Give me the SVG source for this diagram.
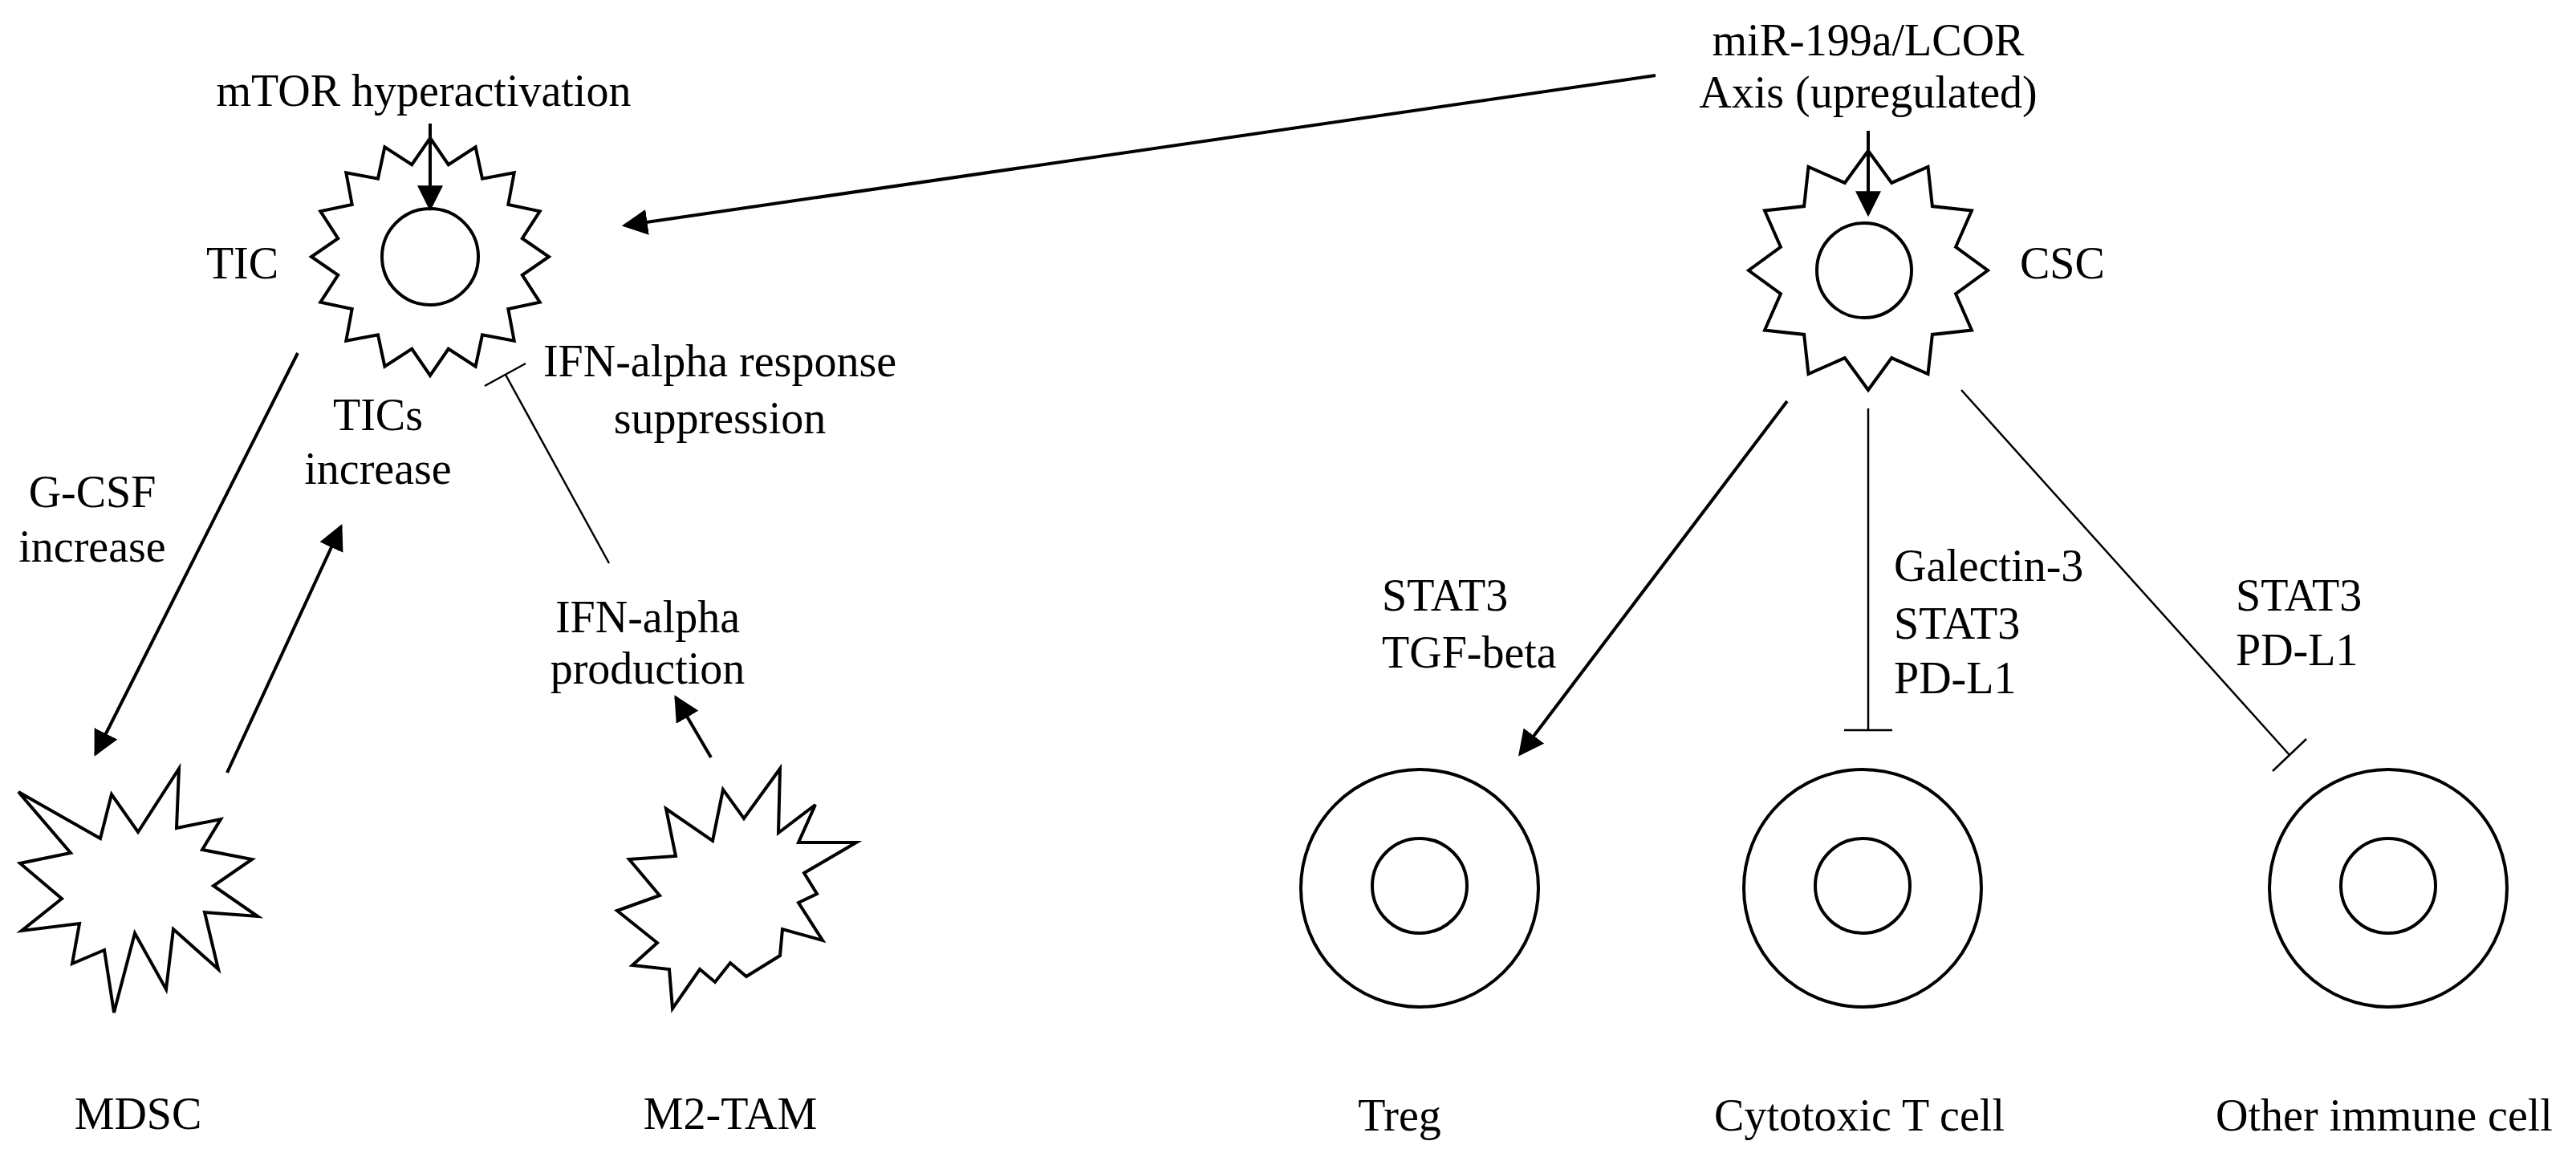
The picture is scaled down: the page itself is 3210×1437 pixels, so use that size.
<svg xmlns="http://www.w3.org/2000/svg" width="3210" height="1437" viewBox="0 0 3210 1437">
<defs>
<style>
.t{font-family:"Liberation Serif","Times New Roman",serif;font-size:56px;fill:#000}
.m{text-anchor:middle}
.s{fill:#fff;stroke:#000;stroke-width:4;stroke-linejoin:miter}
.c{stroke:#000;fill:none}
.a{stroke-width:4}
.i{stroke-width:2.5}
</style>
<marker id="ah" viewBox="0 0 10 10" refX="9" refY="5" markerWidth="32" markerHeight="32" markerUnits="userSpaceOnUse" orient="auto">
<path d="M0,0 L10,5 L0,10 z" fill="#000"/>
</marker>
</defs>
<rect width="3210" height="1437" fill="#fff"/>

<g id="tic">
<polygon class="s" points="536,172 558.8,205.2 592.6,183.3 601,222.7 640.7,215.3 633.3,255 672.7,263.4 650.8,297.2 684,320 650.8,342.8 672.7,376.6 633.3,385 640.7,424.7 601,417.3 592.6,456.7 558.8,434.8 536,468 513.2,434.8 479.4,456.7 471,417.3 431.3,424.7 438.7,385 399.3,376.6 421.2,342.8 388,320 421.2,297.2 399.3,263.4 438.7,255 431.3,215.3 471,222.7 479.4,183.3 513.2,205.2"/>
<circle class="s" cx="536" cy="320" r="60"/>
<text class="t m" x="302" y="347">TIC</text>
</g>
<g id="mtor"><text class="t m" x="528" y="132">mTOR hyperactivation</text></g>
<g id="mir"><text class="t m" x="2328" y="69">miR-199a/LCOR</text><text class="t m" x="2328" y="134">Axis (upregulated)</text></g>
<g id="csc">
<polygon class="s" points="2328,188 2357.2,227.9 2402.5,208 2407.9,257.1 2457,262.5 2437.1,307.8 2477,337 2437.1,366.2 2457,411.5 2407.9,416.9 2402.5,466 2357.2,446.1 2328,486 2298.8,446.1 2253.5,466 2248.1,416.9 2199,411.5 2218.9,366.2 2179,337 2218.9,307.8 2199,262.5 2248.1,257.1 2253.5,208 2298.8,227.9"/>
<circle class="s" cx="2323" cy="337" r="59"/>
<text class="t" x="2517" y="347">CSC</text>
</g>
<g id="mdsc">
<polygon class="s" points="23,987 125,1045 139,990 172,1037 223,958 220,1032 275,1021 252,1059 314,1071 266,1104 321,1142 255,1137 272,1208 216,1158 207,1233 168,1163 142,1262 130,1184 90,1201 99,1151 27,1160 77,1120 25,1076 88,1063"/>
<text class="t m" x="172" y="1407">MDSC</text>
</g>
<g id="m2tam">
<polygon class="s" points="830,1008 888,1048 901,984 927,1020 972,958 970,1038 1016,1003 995,1050 1067,1050 1002,1088 1018,1114 995,1125 1025,1172 975,1158 972,1191 930,1217 910,1200 891,1224 872,1208 838,1257 834,1208 788,1203 819,1175 769,1135 822,1116 784,1071 842,1067"/>
<text class="t m" x="910" y="1407">M2-TAM</text>
</g>
<g id="treg"><circle class="s" cx="1769" cy="1107" r="148"/><circle class="s" cx="1769" cy="1104" r="59"/><text class="t m" x="1744" y="1409">Treg</text></g>
<g id="ctl"><circle class="s" cx="2321" cy="1107" r="148"/><circle class="s" cx="2321" cy="1104" r="59"/><text class="t m" x="2317" y="1409">Cytotoxic T cell</text></g>
<g id="other"><circle class="s" cx="2976" cy="1107" r="148"/><circle class="s" cx="2976" cy="1104" r="59"/><text class="t m" x="2971" y="1409">Other immune cell</text></g>

<g id="labels">
<text class="t m" x="897" y="469">IFN-alpha response</text>
<text class="t m" x="897" y="540">suppression</text>
<text class="t m" x="471" y="536">TICs</text>
<text class="t m" x="471" y="603">increase</text>
<text class="t m" x="115" y="632">G-CSF</text>
<text class="t m" x="115" y="700">increase</text>
<text class="t m" x="807" y="788">IFN-alpha</text>
<text class="t m" x="807" y="852">production</text>
<text class="t" x="1722" y="761">STAT3</text>
<text class="t" x="1722" y="832">TGF-beta</text>
<text class="t" x="2360" y="724">Galectin-3</text>
<text class="t" x="2360" y="796">STAT3</text>
<text class="t" x="2360" y="864">PD-L1</text>
<text class="t" x="2786" y="761">STAT3</text>
<text class="t" x="2786" y="829">PD-L1</text>
</g>

<g id="connectors">
<line class="c a" x1="536" y1="154" x2="536" y2="260" marker-end="url(#ah)"/>
<line class="c a" x1="2328" y1="163" x2="2328" y2="267" marker-end="url(#ah)"/>
<line class="c a" x1="2063" y1="94" x2="778" y2="281" marker-end="url(#ah)"/>
<line class="c a" x1="371" y1="440" x2="119" y2="940" marker-end="url(#ah)"/>
<line class="c a" x1="283" y1="963" x2="425" y2="656" marker-end="url(#ah)"/>
<line class="c a" x1="886" y1="944" x2="842" y2="869" marker-end="url(#ah)"/>
<line class="c i" x1="759" y1="702" x2="630" y2="467"/>
<line class="c i" x1="604" y1="481" x2="655" y2="453"/>
<line class="c a" x1="2227" y1="500" x2="1894" y2="940" marker-end="url(#ah)"/>
<line class="c i" x1="2328" y1="509" x2="2328" y2="910"/>
<line class="c i" x1="2298" y1="910" x2="2358" y2="910"/>
<line class="c i" x1="2444" y1="486" x2="2853" y2="941"/>
<line class="c i" x1="2874" y1="921" x2="2832" y2="961"/>
</g>
</svg>
